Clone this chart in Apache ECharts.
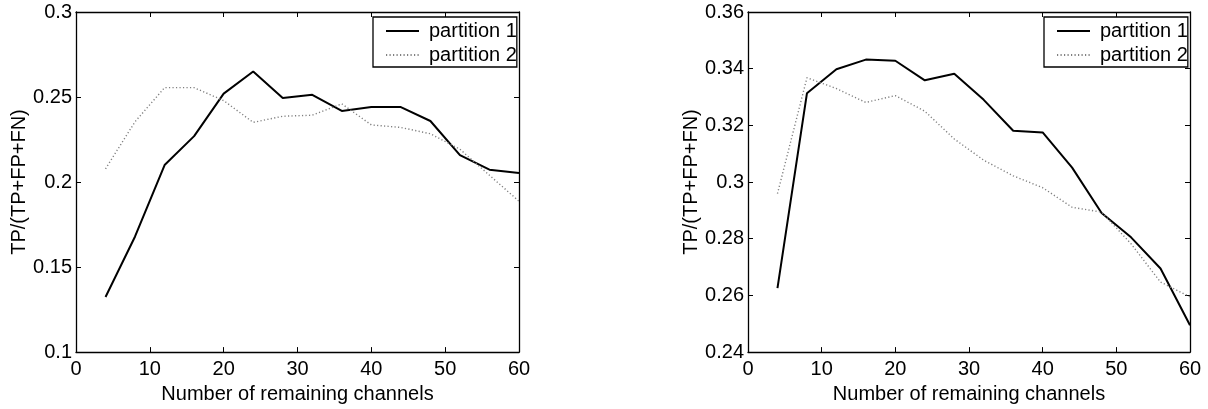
<!DOCTYPE html>
<html>
<head>
<meta charset="utf-8">
<script src="https://cdn.jsdelivr.net/npm/echarts@6/dist/echarts.min.js"></script>
<style>
  html, body { margin: 0; padding: 0; background: #fff; }
  #chart { width: 1208px; height: 409px; }
</style>
</head>
<body>
<div id="chart"></div>
<script>
// ---- data ----
const channels = [4, 8, 12, 16, 20, 24, 28, 32, 36, 40, 44, 48, 52, 56, 60];
const seriesNames = ['partition 1', 'partition 2'];

const leftPartition1 = [0.1324, 0.168, 0.210, 0.227, 0.252, 0.265, 0.2494, 0.2513, 0.2418, 0.2441, 0.2441, 0.2359, 0.2158, 0.2073, 0.2053];
const leftPartition2 = [0.2078, 0.2355, 0.2555, 0.2555, 0.2479, 0.2351, 0.2387, 0.2393, 0.246, 0.2336, 0.2321, 0.2284, 0.2193, 0.204, 0.1887];

const rightPartition1 = [0.2626, 0.3313, 0.3398, 0.3432, 0.3428, 0.3359, 0.3382, 0.329, 0.3181, 0.3175, 0.3051, 0.2891, 0.2805, 0.2695, 0.2495];
const rightPartition2 = [0.2959, 0.3368, 0.333, 0.3281, 0.3305, 0.325, 0.3152, 0.3077, 0.3022, 0.298, 0.2911, 0.2894, 0.2782, 0.2647, 0.2595];

const xTicks = { min: 0, max: 60, interval: 10 };
const leftYTicks = { min: 0.1, max: 0.3, interval: 0.05 };
const rightYTicks = { min: 0.24, max: 0.36, interval: 0.02 };

const xTitle = 'Number of remaining channels';
const yTitle = 'TP/(TP+FP+FN)';

// ---- styling ----
const FONT = '"Liberation Sans", Arial, Helvetica, sans-serif';
const FS = 20;

function pairs(xs, ys) { return xs.map((x, i) => [x, ys[i]]); }

function mainX(gi) {
  return {
    type: 'value', gridIndex: gi, position: 'bottom',
    min: xTicks.min, max: xTicks.max, interval: xTicks.interval,
    name: xTitle, nameLocation: 'middle', nameGap: 24,
    nameTextStyle: { fontFamily: FONT, fontSize: FS, color: '#000' },
    axisLine: { show: true, onZero: false, lineStyle: { color: '#000', width: 1.3 } },
    axisTick: { show: true, inside: true, length: 5, lineStyle: { color: '#000' } },
    axisLabel: { show: true, margin: 7, fontFamily: FONT, fontSize: FS, color: '#000' },
    splitLine: { show: false }
  };
}
function mirrorX(gi) {
  return {
    type: 'value', gridIndex: gi, position: 'top',
    min: xTicks.min, max: xTicks.max, interval: xTicks.interval,
    axisLine: { show: true, onZero: false, lineStyle: { color: '#000', width: 1.3 } },
    axisTick: { show: true, inside: true, length: 5, lineStyle: { color: '#000' } },
    axisLabel: { show: false },
    splitLine: { show: false }
  };
}
function mainY(gi, t) {
  return {
    type: 'value', gridIndex: gi, position: 'left',
    min: t.min, max: t.max, interval: t.interval,
    name: yTitle, nameLocation: 'middle', nameGap: 45, nameRotate: 90,
    nameTextStyle: { fontFamily: FONT, fontSize: FS, color: '#000' },
    axisLine: { show: true, onZero: false, lineStyle: { color: '#000', width: 1.3 } },
    axisTick: { show: true, inside: true, length: 5, lineStyle: { color: '#000' } },
    axisLabel: { show: true, margin: 4, fontFamily: FONT, fontSize: FS, color: '#000' },
    splitLine: { show: false }
  };
}
function mirrorY(gi, t) {
  return {
    type: 'value', gridIndex: gi, position: 'right',
    min: t.min, max: t.max, interval: t.interval,
    axisLine: { show: true, onZero: false, lineStyle: { color: '#000', width: 1.3 } },
    axisTick: { show: true, inside: true, length: 5, lineStyle: { color: '#000' } },
    axisLabel: { show: false },
    splitLine: { show: false }
  };
}

function solid(name, xi, yi, data) {
  return {
    type: 'line', name: name, xAxisIndex: xi, yAxisIndex: yi,
    data: data, symbol: 'none', showSymbol: false, animation: false,
    lineStyle: { color: '#000', width: 2, type: 'solid' },
    itemStyle: { color: '#000' }
  };
}
function dotted(name, xi, yi, data) {
  return {
    type: 'line', name: name, xAxisIndex: xi, yAxisIndex: yi,
    data: data, symbol: 'none', showSymbol: false, animation: false,
    lineStyle: { color: '#808080', width: 1.4, type: [1.2, 2.3] },
    itemStyle: { color: '#808080' }
  };
}

function legendAt(left, top) {
  return {
    data: seriesNames, orient: 'vertical', left: left, top: top,
    itemWidth: 33, itemHeight: 14, itemGap: 4,
    padding: [4, 0, 2, 12],
    borderColor: '#000', borderWidth: 1.3, backgroundColor: '#fff',
    selectedMode: false,
    itemStyle: { opacity: 0 },
    textStyle: { fontFamily: FONT, fontSize: FS, color: '#000', lineHeight: 20, padding: [0, 0, 0, 5] }
  };
}

const chart = echarts.init(document.getElementById('chart'), null, { renderer: 'canvas' });
chart.setOption({
  animation: false,
  backgroundColor: '#fff',
  grid: [
    { left: 76, top: 12, width: 443, height: 350 },
    { left: 748, top: 12, width: 442, height: 350 }
  ],
  xAxis: [mainX(0), mirrorX(0), mainX(1), mirrorX(1)],
  yAxis: [mainY(0, leftYTicks), mirrorY(0, leftYTicks), mainY(1, rightYTicks), mirrorY(1, rightYTicks)],
  legend: [legendAt(373, 17), legendAt(1044, 17)],
  series: [
    solid(seriesNames[0], 0, 0, pairs(channels, leftPartition1)),
    dotted(seriesNames[1], 0, 0, pairs(channels, leftPartition2)),
    solid(seriesNames[0], 2, 2, pairs(channels, rightPartition1)),
    dotted(seriesNames[1], 2, 2, pairs(channels, rightPartition2))
  ]
});
</script>
</body>
</html>
